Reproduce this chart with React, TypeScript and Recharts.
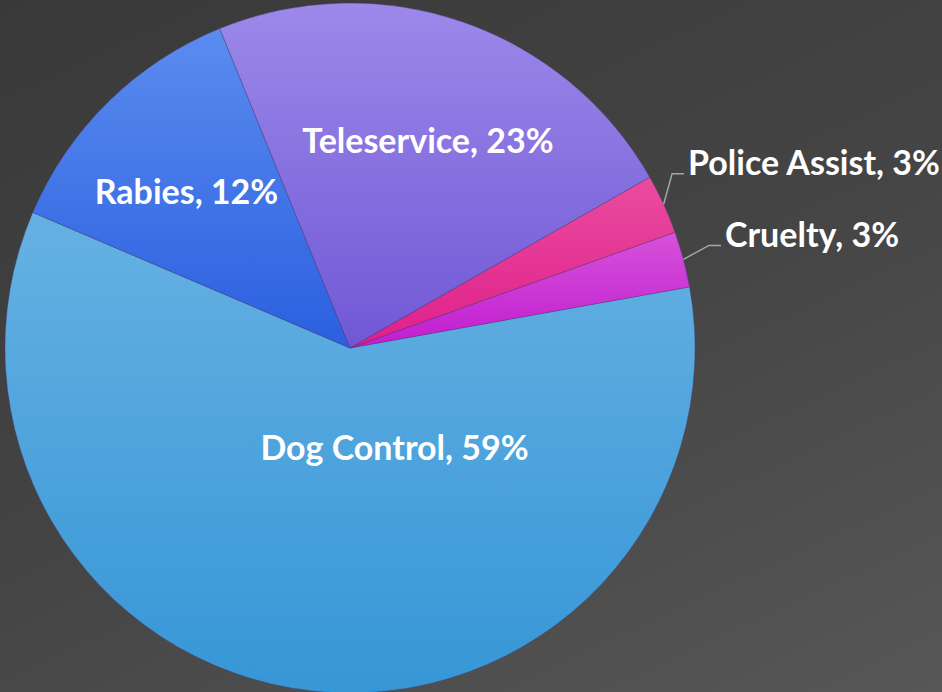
import React from "react";
import { PieChart, Pie, Cell } from "recharts";

const categories = ["Dog Control", "Rabies", "Teleservice", "Police Assist", "Cruelty"];
const shares = [59.2, 12.4, 22.9, 2.8, 2.6];
const pctLabels = ["59%", "12%", "23%", "3%", "3%"];

const topColors = ["#66b1e3", "#5b8cef", "#9c89ea", "#ea4c9f", "#d652da"];
const bottomColors = ["#3696d6", "#2b5fe0", "#7058d5", "#df1f8a", "#c11ccf"];

// label layout: offsets as fractions of the outer radius (x = centre / start, y = baseline)
const labelLayout = [
  { fx: 0.129, fy: 0.325, outside: false },
  { fx: -0.474, fy: -0.417, outside: false },
  { fx: 0.226, fy: -0.565, outside: false },
  { fx: 0.98, fy: -0.501, outside: true },
  { fx: 1.087, fy: -0.293, outside: true },
];

const data = categories.map((name, i) => ({ name, value: shares[i], pct: pctLabels[i] }));

const RAD = Math.PI / 180;
const FONT = "Lato, 'Open Sans', sans-serif";
const FS = 34;

const renderLabel = (props: any) => {
  const { cx, cy, outerRadius, midAngle, index } = props;
  const lay = labelLayout[index];
  const text = `${categories[index]}, ${pctLabels[index]}`;
  const x = cx + lay.fx * outerRadius;
  const y = cy + lay.fy * outerRadius;
  if (!lay.outside) {
    return (
      <text
        key={`l${index}`}
        x={x}
        y={y}
        textAnchor="middle"
        fill="#ffffff"
        fontFamily={FONT}
        fontWeight={700}
        fontSize={FS}
      >
        {text}
      </text>
    );
  }
  const sx = cx + outerRadius * Math.cos(-midAngle * RAD);
  const sy = cy + outerRadius * Math.sin(-midAngle * RAD);
  const ly = y - 1.5;
  return (
    <g key={`l${index}`}>
      <polyline
        points={`${sx},${sy} ${x - 16},${ly} ${x - 4},${ly}`}
        fill="none"
        stroke="#a6a6a6"
        strokeWidth={1.5}
      />
      <text
        x={x}
        y={y}
        textAnchor="start"
        fill="#ffffff"
        fontFamily={FONT}
        fontWeight={700}
        fontSize={FS}
      >
        {text}
      </text>
    </g>
  );
};

export default function App() {
  return (
    <div
      style={{
        position: "fixed",
        left: 0,
        top: 0,
        width: 942,
        height: 692,
        overflow: "hidden",
        background: "linear-gradient(155deg, #393939 0%, #444444 50%, #575757 100%)",
      }}
    >
      <PieChart width={942} height={692} margin={{ top: 0, right: 0, bottom: 0, left: 0 }}>
        <defs>
          {categories.map((c, i) => (
            <linearGradient key={c} id={`g${i}`} x1="0" y1="0" x2="0" y2="1">
              <stop offset="0%" stopColor={topColors[i]} />
              <stop offset="100%" stopColor={bottomColors[i]} />
            </linearGradient>
          ))}
        </defs>
        <Pie
          data={data}
          dataKey="value"
          nameKey="name"
          cx={350}
          cy={348}
          outerRadius={345}
          startAngle={10.2}
          endAngle={-349.8}
          label={renderLabel}
          labelLine={false}
          isAnimationActive={false}
          stroke="rgba(70,60,120,0.45)"
          strokeWidth={0.8}
        >
          {data.map((d, i) => (
            <Cell key={d.name} fill={`url(#g${i})`} />
          ))}
        </Pie>
      </PieChart>
    </div>
  );
}
